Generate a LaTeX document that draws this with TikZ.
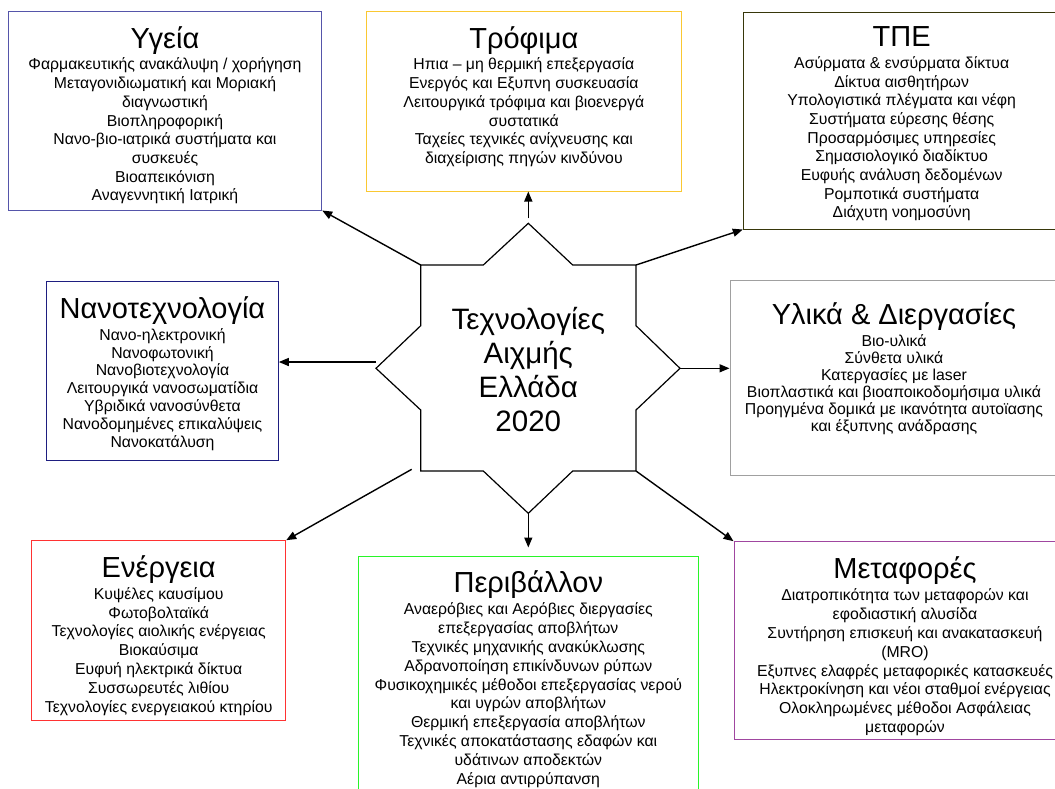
\documentclass[tikz,border=0pt]{standalone}
\usepackage{fontspec}
\setmainfont{Liberation Sans}
\usetikzlibrary{arrows.meta}

\definecolor{ygeiacol}{RGB}{85,85,170}
\definecolor{trofimacol}{RGB}{250,200,50}
\definecolor{tpecol}{RGB}{55,55,10}
\definecolor{nanocol}{RGB}{30,30,128}
\definecolor{ylikacol}{RGB}{160,160,160}
\definecolor{energcol}{RGB}{255,50,50}
\definecolor{perivcol}{RGB}{40,245,40}
\definecolor{metafcol}{RGB}{160,70,160}

\newcommand{\boxtitle}[1]{{\fontsize{29}{30}\selectfont #1}\\[3pt]}

\begin{document}
\begin{tikzpicture}[x=1pt,y=-1pt,
	box/.style={draw=#1, line width=1pt, inner sep=0pt},
	boxtext/.style={anchor=north, align=center, inner sep=0pt, font=\fontsize{15.8}{#1}\selectfont},
	boxtext/.default=18.7pt,
	link/.style={-{Triangle[length=10pt,width=8pt]}, line width=1.4pt}]
	\useasboundingbox (0,0) rectangle (1055,788);
	% Boxes
	\node[box=ygeiacol, minimum width=313.4pt, minimum height=198.3pt] (ygeia) at (165,110.85) {};
	\node[box=trofimacol, minimum width=314.3pt, minimum height=179.3pt] (trofima) at (523.85,101.35) {};
	\node[box=tpecol, minimum width=316.8pt, minimum height=217pt] (tpe) at (901.7,120.5) {};
	\node[box=nanocol, minimum width=231.6pt, minimum height=178.3pt] (nano) at (162.5,370.85) {};
	\node[box=ylikacol, minimum width=328pt, minimum height=195pt] (ylika) at (894,377.5) {};
	\node[box=energcol, minimum width=254pt, minimum height=180pt] (energeia) at (158.7,630.7) {};
	\node[box=perivcol, minimum width=340pt, minimum height=244pt] (perivallon) at (528.3,678) {};
	\node[box=metafcol, minimum width=342pt, minimum height=197.6pt] (metafores) at (905,640.5) {};
	%Labels
	\node[boxtext] (ygeia-t) at ([yshift=-15pt]ygeia.north) {\boxtitle{Υγεία}
		Φαρμακευτικής ανακάλυψη / χορήγηση\\ Μεταγονιδιωματική και Μοριακή\\ διαγνωστική\\
		Βιοπληροφορική\\ Νανο-βιο-ιατρικά συστήματα και\\ συσκευές\\ Βιοαπεικόνιση\\ Αναγεννητική Ιατρική};
	\node[boxtext] (trofima-t) at ([yshift=-15pt]trofima.north) {\boxtitle{Τρόφιμα}
		Ηπια – μη θερμική επεξεργασία\\ Ενεργός και Εξυπνη συσκευασία\\ Λειτουργικά τρόφιμα και βιοενεργά\\
		συστατικά\\ Ταχείες τεχνικές ανίχνευσης και\\ διαχείρισης πηγών κινδύνου};
	\node[boxtext] (tpe-t) at ([yshift=-15pt]tpe.north) {\boxtitle{ΤΠΕ}
		Ασύρματα \& ενσύρματα δίκτυα\\ Δίκτυα αισθητήρων\\ Υπολογιστικά πλέγματα και νέφη\\
		Συστήματα εύρεσης θέσης\\ Προσαρμόσιμες υπηρεσίες\\ Σημασιολογικό διαδίκτυο\\
		Ευφυής ανάλυση δεδομένων\\ Ρομποτικά συστήματα\\ Διάχυτη νοημοσύνη};
	\node[boxtext=17.9pt] (nano-t) at ([yshift=-15pt]nano.north) {\boxtitle{Νανοτεχνολογία}
		Νανο-ηλεκτρονική\\ Νανοφωτονική\\ Νανοβιοτεχνολογία\\ Λειτουργικά νανοσωματίδια\\
		Υβριδικά νανοσύνθετα\\ Νανοδομημένες επικαλύψεις\\ Νανοκατάλυση};
	\node[boxtext=17pt] (ylika-t) at ([yshift=-23pt]ylika.north) {\boxtitle{Υλικά \& Διεργασίες}
		Βιο-υλικά\\ Σύνθετα υλικά\\ Κατεργασίες με laser\\ Βιοπλαστικά και βιοαποικοδομήσιμα υλικά\\
		Προηγμένα δομικά με ικανότητα αυτοϊασης\\ και έξυπνης ανάδρασης};
	\node[boxtext=18.9pt] (energeia-t) at ([yshift=-15pt]energeia.north) {\boxtitle{Ενέργεια}
		Κυψέλες καυσίμου\\ Φωτοβολταϊκά\\ Τεχνολογίες αιολικής ενέργειας\\ Βιοκαύσιμα\\
		Ευφυή ηλεκτρικά δίκτυα\\ Συσσωρευτές λιθίου\\ Τεχνολογίες ενεργειακού κτηρίου};
	\node[boxtext=18.9pt] (perivallon-t) at ([yshift=-15pt]perivallon.north) {\boxtitle{Περιβάλλον}
		Αναερόβιες και Αερόβιες διεργασίες\\ επεξεργασίας αποβλήτων\\ Τεχνικές μηχανικής ανακύκλωσης\\
		Αδρανοποίηση επικίνδυνων ρύπων\\ Φυσικοχημικές μέθοδοι επεξεργασίας νερού\\ και υγρών αποβλήτων\\
		Θερμική επεξεργασία αποβλήτων\\ Τεχνικές αποκατάστασης εδαφών και\\ υδάτινων αποδεκτών\\ Αέρια αντιρρύπανση};
	\node[boxtext=18.95pt] (metafores-t) at ([yshift=-15pt]metafores.north) {\boxtitle{Μεταφορές}
		Διατροπικότητα των μεταφορών και\\ εφοδιαστική αλυσίδα\\ Συντήρηση επισκευή και ανακατασκευή\\
		(MRO)\\ Εξυπνες ελαφρές μεταφορικές κατασκευές\\ Ηλεκτροκίνηση και νέοι σταθμοί ενέργειας\\
		Ολοκληρωμένες μέθοδοι Ασφάλειας\\ μεταφορών};
	% Star
	\coordinate (s-n) at (528.3,223.3);
	\coordinate (s-ne) at (636,265);
	\coordinate (s-e) at (680,368.3);
	\coordinate (s-se) at (636,471);
	\coordinate (s-s) at (528.3,513.3);
	\coordinate (s-sw) at (420.7,471);
	\coordinate (s-w) at (376,368.3);
	\coordinate (s-nw) at (420.7,265);
	\draw[line width=1.2pt, line join=miter] (s-n) -- (572.7,265) -- (s-ne) -- (636,325.7) -- (s-e) -- (636,410) -- (s-se)
		-- (572.7,471) -- (s-s) -- (483.3,471) -- (s-sw) -- (420.7,410) -- (s-w) -- (420.7,325.7) -- (s-nw) -- (483.3,265) -- cycle;
	\node[align=center, inner sep=0pt, font=\fontsize{29.5}{34.3}\selectfont] (core) at (528.3,369.5) {Τεχνολογίες\\ Αιχμής\\ Ελλάδα\\ 2020};
	%Arrows
	\coordinate (a-w) at (376,362);
	\coordinate (a-sw) at (411.7,469.3);
	\draw[link, shorten <=5pt] (s-n) -- (s-n |- trofima.south);
	\draw[link] (s-nw) -- (ygeia.south east);
	\draw[link] (s-ne) -- (tpe.south west);
	\draw[link] (a-w) -- (a-w -| nano.east);
	\draw[link] (s-e) -- (s-e -| ylika.west);
	\draw[link] (a-sw) -- (energeia.north east);
	\draw[link, shorten >=8pt] (s-s) -- (perivallon.north);
	\draw[link] (s-se) -- (metafores.north west);
\end{tikzpicture}
\end{document}
